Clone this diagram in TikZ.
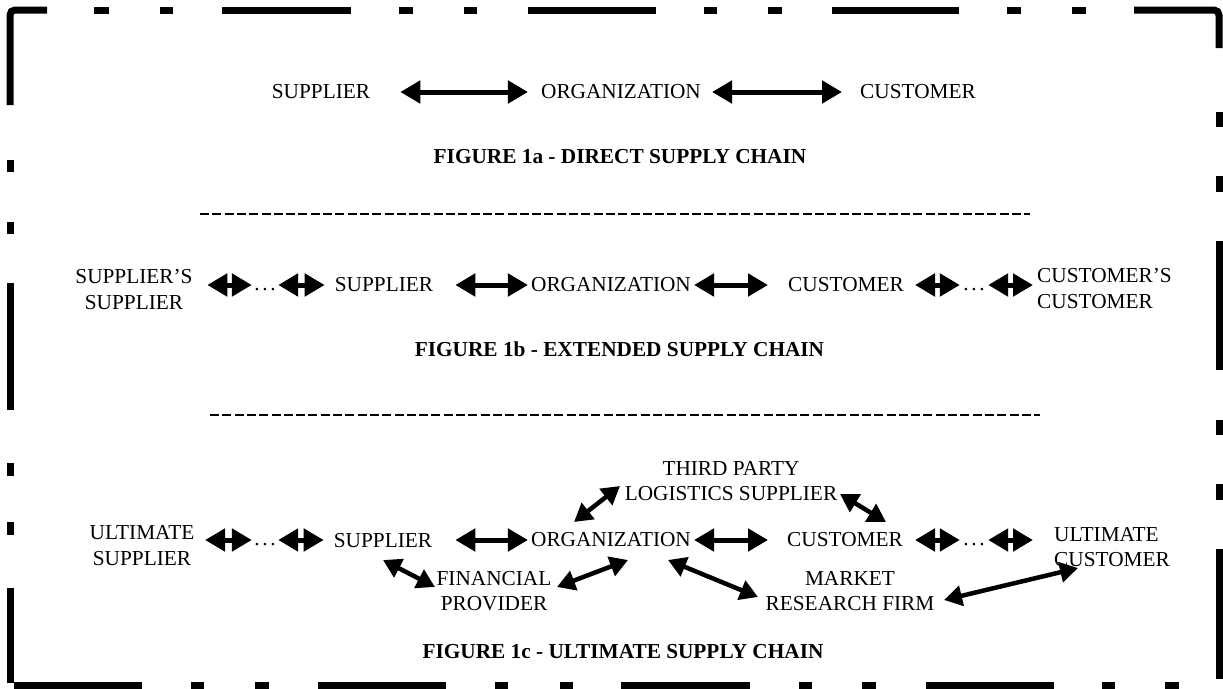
\documentclass[tikz,border=0pt]{standalone}
\usepackage{fontspec}
\setmainfont{Liberation Serif}
\usetikzlibrary{arrows.meta,calc}
\begin{document}
\begin{tikzpicture}[x=1pt,y=-1pt,
  every node/.style={inner sep=0pt, font=\fontsize{21.3}{25.5}\selectfont},
  captxt/.style={font=\fontsize{21.3}{25.5}\selectfont\bfseries},
  harrow/.style={line width=5pt, {Triangle[length=20pt,width=22pt]}-{Triangle[length=20pt,width=22pt]}},
  darrow/.style={line width=4.5pt, {Triangle[length=18pt,width=20pt]}-{Triangle[length=18pt,width=20pt]}},
  sepline/.style={line width=2.5pt, dash pattern=on 9pt off 3.3pt},
  bord/.style={line width=7pt}]
\useasboundingbox (0,0) rectangle (1223,688);
\begin{scope}
\clip (0,0) rectangle (1223,688);
% border
\foreach \a/\b in {94/109,160/173,222/351,399/413,464/477,528/656,704/717,768/782,832/959,1007/1021,1072/1086}
  \draw[bord] (\a,10) -- (\b,10);
\draw[bord, rounded corners=5pt] (10,105) -- (10,10) -- (47,10);
\draw[bord, rounded corners=5pt] (1134,10) -- (1219,10) -- (1219,48);
\foreach \a/\b in {160/172,222/234,283/410,463/476,522/535,588/683}
  \draw[bord] (10,\a) -- (10,\b);
\foreach \a/\b in {112/127,176/192,241/370,420/435,484/500,549/679}
  \draw[bord] (1219,\a) -- (1219,\b);
\foreach \a/\b in {14/142,191/204,255/269,318/446,495/508,560/573,621/750,799/812,862/876,926/1054,1102/1115,1165/1179}
  \draw[bord] (\a,685) -- (\b,685);
\end{scope}

% ---------- Figure 1a
\node (a-sup) at (321,92) {SUPPLIER};
\node (a-org) at (621,92) {ORGANIZATION};
\node (a-cus) at (918,92) {CUSTOMER};
\draw[harrow] ([xshift=30pt]a-sup.east) -- ([xshift=-13pt]a-org.west);
\draw[harrow] ([xshift=11pt]a-org.east) -- ([xshift=-18pt]a-cus.west);
\node[captxt] (cap-a) at (620,157) {FIGURE 1a - DIRECT SUPPLY CHAIN};
\draw[sepline] (200,214) -- (1030,214);

% ---------- Figure 1b
\coordinate (rowb) at (0,285);
\node[align=center] (b-ss) at (134,289.5) {SUPPLIER’S\\SUPPLIER};
\node (b-d1) at (265,290) {.\kern2.7pt.\kern2.7pt.};
\node (b-sup) at (384,285) {SUPPLIER};
\node (b-org) at (611,285) {ORGANIZATION};
\node (b-cus) at (846,285) {CUSTOMER};
\node (b-d2) at (974,290) {.\kern2.7pt.\kern2.7pt.};
\node[align=left, anchor=west] (b-cc) at (1037,288.5) {CUSTOMER’S\\CUSTOMER};
\draw[harrow] ([xshift=14.5pt]b-ss.east |- rowb) -- ([xshift=-2.3pt]b-d1.west |- rowb);
\draw[harrow] ([xshift=2.3pt]b-d1.east |- rowb) -- ([xshift=-10pt]b-sup.west |- rowb);
\draw[harrow] ([xshift=22pt]b-sup.east |- rowb) -- ([xshift=-3pt]b-org.west |- rowb);
\draw[harrow] ([xshift=3pt]b-org.east |- rowb) -- ([xshift=-20pt]b-cus.west |- rowb);
\draw[harrow] ([xshift=11pt]b-cus.east |- rowb) -- ([xshift=-3.3pt]b-d2.west |- rowb);
\draw[harrow] ([xshift=3.3pt]b-d2.east |- rowb) -- ([xshift=-4pt]b-cc.west |- rowb);
\node[captxt] (cap-b) at (619.5,349) {FIGURE 1b - EXTENDED SUPPLY CHAIN};
\draw[sepline] (210,415) -- (1040,415);

% ---------- Figure 1c
\coordinate (rowc) at (0,540);
\node[align=center] (c-us) at (142,545.5) {ULTIMATE\\SUPPLIER};
\node (c-d1) at (265,545) {.\kern2.7pt.\kern2.7pt.};
\node (c-sup) at (383,541) {SUPPLIER};
\node (c-org) at (611,540) {ORGANIZATION};
\node (c-cus) at (845,540) {CUSTOMER};
\node (c-d2) at (974,545) {.\kern2.7pt.\kern2.7pt.};
\node[align=left, anchor=west] (c-uc) at (1054,547) {ULTIMATE\\CUSTOMER};
\node[align=center] (c-tpl) at (731,481) {THIRD PARTY\\LOGISTICS SUPPLIER};
\node[align=center] (c-fin) at (494,591) {FINANCIAL\\PROVIDER};
\node[align=center] (c-mkt) at (850,591) {MARKET\\RESEARCH FIRM};
\draw[harrow] ([xshift=10.6pt]c-us.east |- rowc) -- ([xshift=-2.3pt]c-d1.west |- rowc);
\draw[harrow] ([xshift=2.3pt]c-d1.east |- rowc) -- ([xshift=-10pt]c-sup.west |- rowc);
\draw[harrow] ([xshift=23pt]c-sup.east |- rowc) -- ([xshift=-3pt]c-org.west |- rowc);
\draw[harrow] ([xshift=3pt]c-org.east |- rowc) -- ([xshift=-19pt]c-cus.west |- rowc);
\draw[harrow] ([xshift=12pt]c-cus.east |- rowc) -- ([xshift=-3.3pt]c-d2.west |- rowc);
\draw[harrow] ([xshift=3.3pt]c-d2.east |- rowc) -- ([xshift=-21pt]c-uc.west |- rowc);
\draw[darrow] ([shift={(-37,-18)}]c-org.center) -- ([shift={(-111,5)}]c-tpl.center);
\draw[darrow] ([shift={(109,13)}]c-tpl.center) -- ([shift={(41,-18)}]c-cus.center);
\draw[darrow] ([shift={(0,19)}]c-sup.center) -- ([shift={(-59,-4)}]c-fin.center);
\draw[darrow] ([shift={(63,-4)}]c-fin.center) -- ([shift={(17,20)}]c-org.center);
\draw[darrow] ([shift={(57,20)}]c-org.center) -- ([shift={(-92,6)}]c-mkt.center);
\draw[darrow] ([shift={(94,9)}]c-mkt.center) -- ([shift={(24,21)}]c-uc.west);
\node[captxt] (cap-c) at (623,652) {FIGURE 1c - ULTIMATE SUPPLY CHAIN};
\end{tikzpicture}
\end{document}
